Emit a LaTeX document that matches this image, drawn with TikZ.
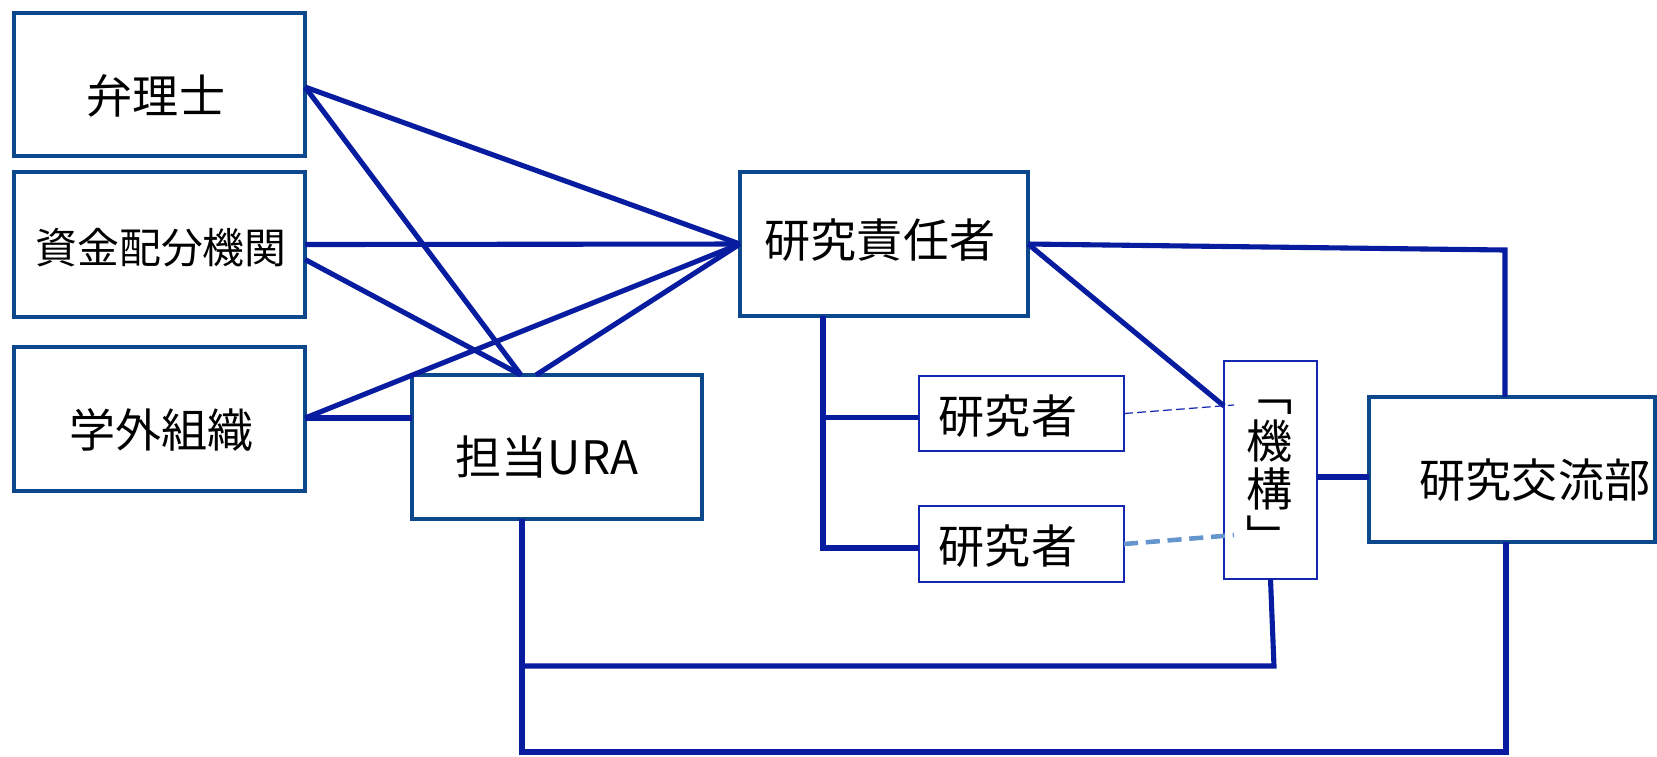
\documentclass[tikz,border=0pt]{standalone}
\usepackage{fontspec}
\setmainfont{Noto Sans CJK JP}
\usetikzlibrary{calc}
\definecolor{boxblue}{RGB}{14,72,140}
\definecolor{lineblue}{RGB}{8,28,160}
\definecolor{thinblue}{RGB}{20,40,175}
\definecolor{paleblue}{RGB}{100,150,205}
\begin{document}
\begin{tikzpicture}[x=0.01cm,y=-0.01cm,
  bigbox/.style={draw=boxblue, line width=1.3pt, inner sep=0pt, outer sep=0pt},
  smallbox/.style={draw=thinblue, line width=0.55pt, inner sep=0pt, outer sep=0pt},
  link/.style={draw=lineblue, line width=1.45pt},
  txt/.style={anchor=base, inner sep=0pt, font=\fontsize{13.1pt}{15pt}\selectfont},
]
\useasboundingbox (0,0) rectangle (1657,756);

% boxes
\node[bigbox, minimum width=2.91cm, minimum height=1.43cm] (ben) at (159.5,84.5) {};
\node[bigbox, minimum width=2.91cm, minimum height=1.45cm] (shikin) at (159.5,244.5) {};
\node[bigbox, minimum width=2.91cm, minimum height=1.44cm] (gakugai) at (159.5,419) {};
\node[bigbox, minimum width=2.90cm, minimum height=1.44cm] (ura) at (557,447) {};
\node[bigbox, minimum width=2.88cm, minimum height=1.44cm] (sekinin) at (884,244) {};
\node[smallbox, minimum width=2.05cm, minimum height=0.75cm] (kenA) at (1021.5,413.5) {};
\node[smallbox, minimum width=2.05cm, minimum height=0.76cm] (kenB) at (1021.5,544) {};
\node[smallbox, minimum width=0.93cm, minimum height=2.18cm] (kikou) at (1270.5,470) {};
\node[bigbox, minimum width=2.86cm, minimum height=1.45cm] (kouryu) at (1512,469.5) {};

% texts
\node[txt] (benT) at (156,113) {弁理士};
\node[txt, font=\fontsize{11.9pt}{14pt}\selectfont] (shikinT) at (161,263) {資金配分機関};
\node[txt] (gakugaiT) at (161.5,447) {学外組織};
\node[txt] (uraT) at (547,474) {担当URA};
\node[txt] (sekininT) at (880,257) {研究責任者};
\node[txt] (kenAT) at (1008,433) {研究者};
\node[txt] (kenBT) at (1008,563) {研究者};
\node[txt] (kouryuT) at (1535,497) {研究交流部};
\node[inner sep=0pt, align=center, font=\fontsize{13.1pt}{13.66pt}\selectfont] (kikouT) at (1270,477) {﹁\\機\\構\\﹂};

% coordinates
\coordinate (uraN1) at ([xshift=-0.36cm]ura.north);
\coordinate (uraN2) at ([xshift=-0.21cm]ura.north);
\coordinate (c1) at (1505,250);
\coordinate (kikouA) at ([yshift=-0.45cm]kikou.north west);
\coordinate (sv) at ([xshift=-0.61cm]sekinin.south);
\coordinate (k1) at (1274,666);
\coordinate (uv) at ([xshift=-0.35cm]ura.south);
\coordinate (kb) at ([xshift=-0.06cm]kouryu.south);
\coordinate (bt) at (0,752);
\coordinate (kAw) at ([yshift=-0.04cm]kenA.west);
\coordinate (kBw) at ([yshift=-0.04cm]kenB.west);
\coordinate (gE) at ([yshift=0.01cm]gakugai.east);
\coordinate (bE) at ([yshift=-0.025cm]ben.east);
\coordinate (kE) at ([yshift=-0.07cm]kikou.east);

% connectors
\draw[link] (bE) -- (sekinin.west);
\draw[link] (bE) -- (uraN1);
\draw[link] (shikin.east) -- (sekinin.west);
\draw[link] ([yshift=-0.15cm]shikin.east) -- (uraN1);
\draw[link] (gE) -- (sekinin.west);
\draw[link] (gE) -- (gE -| ura.west);
\draw[link] (uraN2) -- (sekinin.west);
\draw[link] (sekinin.east) -- (c1) -- (c1 |- kouryu.north);
\draw[link] (sekinin.east) -- (kikouA);
\draw[link] (sv) |- (kBw);
\draw[link] (sv |- kAw) -- (kAw);
\draw[draw=thinblue, line width=0.35pt, dash pattern=on 2.5pt off 1.2pt] (kenA.east) -- ([xshift=0.1cm,yshift=-0.44cm]kikou.north west);
\draw[draw=paleblue, line width=1.3pt, dash pattern=on 4pt off 2.2pt] (kenB.east) -- ([xshift=0.1cm,yshift=-1.74cm]kikou.north west);
\draw[link] (kE) -- (kE -| kouryu.west);
\draw[link] (kikou.south) -- (k1) -- (k1 -| uv);
\draw[link] (uv) -- (uv |- bt) -- (kb |- bt) -- (kb);
\end{tikzpicture}
\end{document}
